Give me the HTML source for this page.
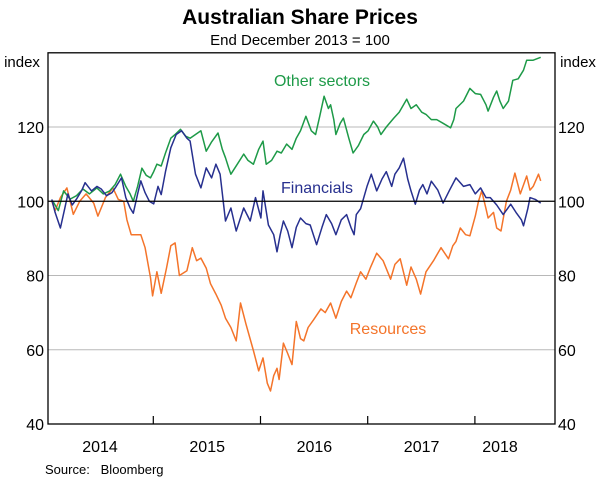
<!DOCTYPE html>
<html><head><meta charset="utf-8"><style>
html,body{margin:0;padding:0;background:#fff;width:600px;height:481px;overflow:hidden}
text{font-family:"Liberation Sans",Arial,sans-serif}
</style></head><body>
<svg id="chart" width="600" height="481" viewBox="0 0 600 481" xmlns="http://www.w3.org/2000/svg">
<text x="300" y="24" text-anchor="middle" font-size="21" font-weight="bold" fill="#000">Australian Share Prices</text>
<text x="300" y="45" text-anchor="middle" font-size="15" fill="#000">End December 2013 = 100</text>
<text x="22" y="67" text-anchor="middle" font-size="15">index</text>
<text x="578" y="67" text-anchor="middle" font-size="15">index</text>
<g id="grid"></g>
<g id="series"></g>
<rect x="48" y="52.8" width="507" height="371.2" fill="none" stroke="#000" stroke-width="1.3"/>
<g id="axes"></g>
<text x="322" y="86" text-anchor="middle" font-size="16" fill="#1e9a48">Other sectors</text>
<text x="317" y="193" text-anchor="middle" font-size="16" fill="#27308f">Financials</text>
<text x="388" y="334" text-anchor="middle" font-size="16" fill="#f4742a">Resources</text>
<text x="45" y="474" font-size="13" xml:space="preserve">Source:   Bloomberg</text>
</svg>
<script>
const yTicks=[40,60,80,100,120];
const gridValues=[60,80,120];
const yearLabels=["2014","2015","2016","2017","2018"];
const yearBoundaries=[2015,2016,2017,2018];
const resT=[2014.02,2014.05,2014.10,2014.16,2014.22,2014.28,2014.34,2014.41,2014.45,2014.52,2014.59,2014.64,2014.69,2014.72,2014.76,2014.85,2014.89,2014.94,2014.96,2015.00,2015.04,2015.09,2015.13,2015.17,2015.21,2015.28,2015.33,2015.37,2015.41,2015.46,2015.50,2015.55,2015.60,2015.64,2015.69,2015.74,2015.78,2015.83,2015.90,2015.95,2015.99,2016.03,2016.06,2016.09,2016.12,2016.14,2016.18,2016.22,2016.26,2016.30,2016.34,2016.37,2016.41,2016.46,2016.53,2016.57,2016.62,2016.67,2016.72,2016.77,2016.81,2016.86,2016.90,2016.95,2016.99,2017.05,2017.11,2017.18,2017.22,2017.27,2017.33,2017.37,2017.42,2017.46,2017.51,2017.58,2017.65,2017.72,2017.76,2017.79,2017.83,2017.88,2017.92,2017.97,2018.00,2018.03,2018.07,2018.09,2018.14,2018.17,2018.21,2018.26,2018.30,2018.34,2018.39,2018.45,2018.48,2018.51,2018.56,2018.58];
const resV=[100,97.5,101,103.6,96.5,100,102,99.5,96,101,103.6,100.5,100,95,91,91,87.5,79.4,74.5,81,75.2,82,88,88.8,80,81.3,87.5,84,84.7,82,77.8,75,72,68.5,66,62.4,72.6,67,59.8,54.3,57.8,51,48.9,53,55,52,61.8,59,56,67.6,63,62.4,66,68,71,70,72.6,68.5,73,75.8,74,78,81,79,82,86,84,79,83,84.5,77.4,82.3,79,75,81,84,87.5,84.5,88,89.2,92.8,91,90.7,96,100,102.8,98,95.5,97,92.8,92,100,103,107.6,102,106.8,103,104,107.3,105.5];
const finT=[2014.02,2014.05,2014.10,2014.14,2014.17,2014.21,2014.25,2014.30,2014.33,2014.39,2014.44,2014.48,2014.53,2014.58,2014.62,2014.67,2014.71,2014.75,2014.78,2014.82,2014.85,2014.89,2014.93,2014.97,2015.01,2015.04,2015.08,2015.13,2015.18,2015.23,2015.28,2015.31,2015.36,2015.41,2015.46,2015.51,2015.55,2015.59,2015.64,2015.69,2015.74,2015.81,2015.87,2015.92,2015.97,2015.99,2016.04,2016.09,2016.12,2016.15,2016.18,2016.22,2016.26,2016.30,2016.34,2016.39,2016.43,2016.49,2016.54,2016.58,2016.63,2016.67,2016.72,2016.77,2016.81,2016.84,2016.86,2016.90,2016.93,2016.96,2017.00,2017.05,2017.10,2017.14,2017.19,2017.22,2017.26,2017.30,2017.34,2017.37,2017.41,2017.45,2017.48,2017.52,2017.56,2017.62,2017.67,2017.73,2017.79,2017.86,2017.92,2017.97,2018.02,2018.07,2018.11,2018.17,2018.23,2018.30,2018.35,2018.40,2018.42,2018.46,2018.48,2018.53,2018.58];
const finV=[100.5,97,92.8,98,102,99,100.6,103,105,102.8,104,103.3,101.5,102.3,104,106.3,101,98.2,96.8,102,105.5,102.3,100,99.3,104,101.8,108,114.4,118,119,117,116.2,107.3,103.6,109,106.3,110,107.3,94.7,98.2,92,98.2,94.7,101,95.5,102.8,93.6,91,86.4,91,94.7,92,87.5,93,95.5,94,93.6,88.3,93,96.4,94,91,95,96.4,93,91,96.4,98,101,104,107.3,102.8,106,108,104,107.3,109,111.6,106,102.8,99.2,103,104.5,102,105.4,103,99.5,103,106.3,104,104.5,102,103.6,101,101,99,96.4,99.2,97,95,93.4,98,101,100.5,99.5];
const othT=[2014.02,2014.03,2014.08,2014.13,2014.19,2014.25,2014.31,2014.37,2014.44,2014.50,2014.56,2014.61,2014.66,2014.71,2014.75,2014.78,2014.82,2014.86,2014.90,2014.94,2014.97,2015.00,2015.04,2015.08,2015.13,2015.17,2015.22,2015.27,2015.31,2015.36,2015.41,2015.46,2015.51,2015.57,2015.61,2015.64,2015.67,2015.69,2015.75,2015.81,2015.85,2015.90,2015.95,2015.99,2016.02,2016.07,2016.12,2016.16,2016.21,2016.26,2016.30,2016.34,2016.39,2016.44,2016.48,2016.52,2016.56,2016.60,2016.62,2016.65,2016.67,2016.71,2016.74,2016.79,2016.83,2016.88,2016.93,2016.97,2017.02,2017.06,2017.09,2017.14,2017.21,2017.26,2017.33,2017.37,2017.42,2017.47,2017.51,2017.56,2017.61,2017.67,2017.74,2017.77,2017.79,2017.86,2017.92,2017.97,2018.02,2018.07,2018.09,2018.14,2018.17,2018.20,2018.23,2018.28,2018.32,2018.37,2018.42,2018.45,2018.51,2018.58];
const othV=[100,100,97.5,102.8,100.6,101.5,103.3,102,103.6,102,102.8,104.5,107.3,104,102,100,104,108.9,107,106.3,108,110,109.5,113,117,118,119.4,117.5,117,118,119,113.5,116,118.4,114,111.7,109,107.3,110,112.7,111,110,114,116.2,110,111,113.5,113,115.4,114,117,119,122.9,119,118,123,128.3,125,126,122,118,121,122.4,117,113,115,118,119,121.6,120,118,120,122.4,124,127.5,125,126,124,123.4,122,122,121,119.8,122,125,127,130.4,129,128.8,126,124.3,128,129.7,127,125,127,132.6,133,135.3,138,138,138.8];

const L=48,R=555,T=52.8,B=424,yMin=40,yMax=140,pxPerYear=107.2;
function xs(t){return L+(t-2014)*pxPerYear+1.7;}
function ys(v){return B-(v-yMin)/(yMax-yMin)*(B-T);}
const NS="http://www.w3.org/2000/svg";
const grid=document.getElementById('grid'),axes=document.getElementById('axes'),ser=document.getElementById('series');
gridValues.forEach(v=>{const l=document.createElementNS(NS,'line');


l.setAttribute('x1',L);l.setAttribute('x2',R);l.setAttribute('y1',ys(v));l.setAttribute('y2',ys(v));l.setAttribute('stroke','#b8b8b8');l.setAttribute('stroke-width','1');grid.appendChild(l);});
yTicks.forEach(v=>{
 const a=document.createElementNS(NS,'text');
 
 
 a.setAttribute('x',44);a.setAttribute('y',ys(v)+6);a.setAttribute('text-anchor','end');a.setAttribute('font-size','16');a.textContent=v;axes.appendChild(a);
 const b=document.createElementNS(NS,'text');
 
 
 b.setAttribute('x',558);b.setAttribute('y',ys(v)+6);b.setAttribute('font-size','16');b.textContent=v;axes.appendChild(b);
});
yearBoundaries.forEach(y=>{const l=document.createElementNS(NS,'line');


const x=153.3+(y-2015)*pxPerYear;
l.setAttribute('x1',x);l.setAttribute('x2',x);l.setAttribute('y1',B-8);l.setAttribute('y2',B);l.setAttribute('stroke','#000');l.setAttribute('stroke-width','1.2');axes.appendChild(l);});
yearLabels.forEach((s,i)=>{const t=document.createElementNS(NS,'text');


const cx=(i<4)?(100+i*107.2):500;t.setAttribute('x',cx);t.setAttribute('y',452);t.setAttribute('text-anchor','middle');t.setAttribute('font-size','16');t.textContent=s;axes.appendChild(t);});
const base=document.createElementNS(NS,'line');


base.setAttribute('x1',L);base.setAttribute('x2',R);base.setAttribute('y1',ys(100));base.setAttribute('y2',ys(100));base.setAttribute('stroke','#000');base.setAttribute('stroke-width','1.2');
function draw(T_,V,color,name){const p=document.createElementNS(NS,'path');
 
 
 p.setAttribute('d',T_.map((t,i)=>(i?'L':'M')+xs(t).toFixed(1)+','+ys(V[i]).toFixed(1)).join(''));
 p.setAttribute('fill','none');p.setAttribute('stroke',color);p.setAttribute('stroke-width','1.5');p.setAttribute('stroke-linejoin','round');ser.appendChild(p);}
draw(resT,resV,'#f4742a','resources-line');
draw(othT,othV,'#1e9a48','other-sectors-line');
draw(finT,finV,'#27308f','financials-line');
ser.appendChild(base);
</script>
</body></html>
